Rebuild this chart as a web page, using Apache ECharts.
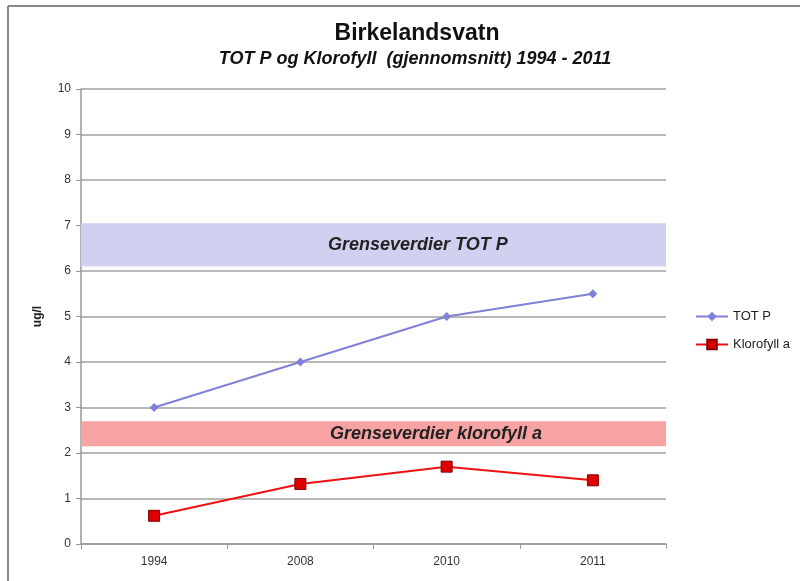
<!DOCTYPE html>
<html>
<head>
<meta charset="utf-8">
<script src="https://cdn.jsdelivr.net/npm/echarts@6/dist/echarts.min.js"></script>
<style>
  html, body { margin: 0; padding: 0; background: #fff; }
  #chart { width: 800px; height: 581px; }
</style>
</head>
<body>
<div id="chart"></div>
<script>
const years = ['1994', '2008', '2010', '2011'];
const totP = [3, 4, 5, 5.5];
const klorofyll = [0.62, 1.32, 1.7, 1.4];
const bandTotP = [6.1, 7.05];
const bandKlorofyll = [2.15, 2.7];

const chart = echarts.init(document.getElementById('chart'), null, { renderer: 'canvas' });

const font = '"Liberation Sans", Arial, sans-serif';

const option = {
  backgroundColor: '#fff',
  animation: false,
  textStyle: { fontFamily: font },
  title: [{
    text: 'Birkelandsvatn',
    left: 412, top: 17, textAlign: 'center',
    textStyle: { fontSize: 23, fontWeight: 'bold', color: '#111', fontFamily: font }
  }, {
    text: 'TOT P og Klorofyll  (gjennomsnitt) 1994 - 2011',
    left: 410, top: 45, textAlign: 'center',
    textStyle: { fontSize: 18, fontWeight: 'bold', fontStyle: 'italic', color: '#111', fontFamily: font }
  }],
  graphic: [
    { type: 'line', shape: { x1: 8, y1: 6, x2: 800, y2: 6 }, style: { stroke: '#888', lineWidth: 2 } },
    { type: 'line', shape: { x1: 8, y1: 6, x2: 8, y2: 581 }, style: { stroke: '#888', lineWidth: 2 } }
  ],
  legend: {
    orient: 'vertical',
    left: 690, top: 305,
    itemWidth: 32, itemHeight: 12, itemGap: 15,
    textStyle: { fontSize: 13, color: '#222', fontFamily: font },
    data: ['TOT P', 'Klorofyll a']
  },
  grid: { left: 81, top: 89, width: 585, height: 455 },
  xAxis: {
    type: 'category',
    data: years,
    boundaryGap: true,
    axisLine: { lineStyle: { color: '#999', width: 1.5 } },
    axisTick: { show: true, length: 5, lineStyle: { color: '#999' } },
    axisLabel: { fontSize: 12, color: '#333', margin: 12 }
  },
  yAxis: {
    type: 'value',
    min: 0, max: 10, interval: 1,
    name: 'ug/l',
    nameLocation: 'middle',
    nameGap: 37,
    nameRotate: 90,
    nameTextStyle: { fontSize: 12, fontWeight: 'bold', color: '#222' },
    axisLine: { show: true, lineStyle: { color: '#999', width: 1.5 } },
    axisTick: { show: true, length: 5, lineStyle: { color: '#999' } },
    axisLabel: { fontSize: 12, color: '#333', margin: 10 },
    splitLine: { lineStyle: { color: '#a0a0a0', width: 1.5 } }
  },
  series: [{
    name: 'TOT P',
    type: 'line',
    data: totP,
    symbol: 'diamond',
    symbolSize: 9,
    z: 3,
    lineStyle: { color: '#7f80d6', width: 2 },
    itemStyle: { color: '#7f80d6' },
    markArea: {
      silent: true,
      itemStyle: { color: '#d0d1f1' },
      label: {
        show: true, position: 'insideLeft', offset: [242, 0],
        fontSize: 18, fontWeight: 'bold', fontStyle: 'italic', color: '#222', fontFamily: font
      },
      data: [[{ name: 'Grenseverdier TOT P', yAxis: bandTotP[0] }, { yAxis: bandTotP[1] }]]
    }
  }, {
    name: 'Klorofyll a',
    type: 'line',
    data: klorofyll,
    symbol: 'rect',
    symbolSize: 11,
    z: 3,
    lineStyle: { color: '#ee1111', width: 2 },
    itemStyle: { color: '#dd0000', borderColor: '#800000', borderWidth: 1 },
    markArea: {
      silent: true,
      itemStyle: { color: '#f8a3a3' },
      label: {
        show: true, position: 'insideLeft', offset: [244, 0],
        fontSize: 18, fontWeight: 'bold', fontStyle: 'italic', color: '#222', fontFamily: font
      },
      data: [[{ name: 'Grenseverdier klorofyll a', yAxis: bandKlorofyll[0] }, { yAxis: bandKlorofyll[1] }]]
    }
  }]
};

chart.setOption(option);
</script>
</body>
</html>
